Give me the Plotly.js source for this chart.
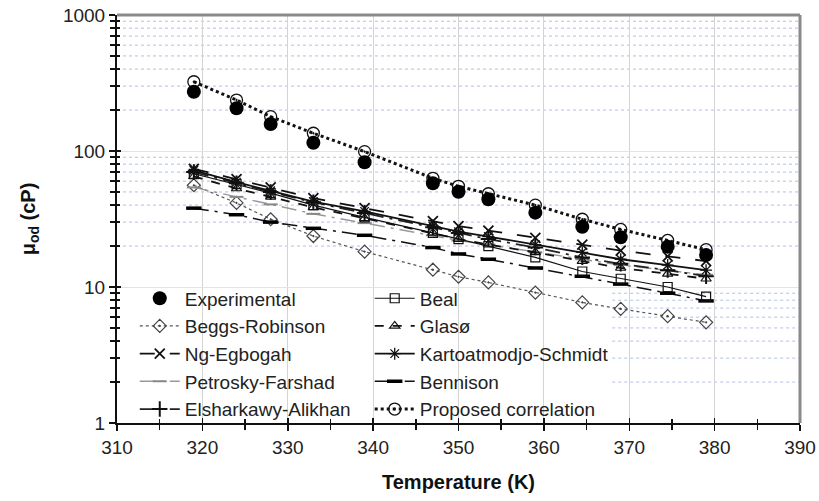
<!DOCTYPE html>
<html>
<head>
<meta charset="utf-8">
<script src="https://cdn.plot.ly/plotly-3.0.1.min.js"></script>
<style>html,body{margin:0;padding:0;background:#fff;}#chart{width:819px;height:501px;}</style>
</head>
<body>
<div id="chart"></div>
<script>
// Temperatures (K)
const temperature = [319, 324, 328, 333, 339, 347, 350, 353.5, 359, 364.5, 369, 374.5, 379];
// Viscosity (cP)
const experimental = [273, 206, 158, 115, 82.6, 57.9, 50.2, 44.2, 35.2, 27.7, 23.2, 19.8, 17.2];
const beal = [68, 57, 49, 40, 32.5, 25, 22.5, 20, 16.5, 13, 11.5, 10, 8.5];
const beggsRobinson = [56, 41.5, 31.5, 23.7, 18.2, 13.4, 11.9, 10.8, 9.1, 7.7, 6.9, 6.1, 5.5];
const glaso = [65, 53, 46, 38.5, 32, 25, 22.5, 20.5, 18, 15.5, 13.8, 12.5, 11.5];
const ngEgbogah = [74, 62, 54, 45, 38, 30.5, 28, 26, 23, 20.5, 18.5, 16.8, 15.5];
const kartoatmodjo = [72, 59, 51, 42.5, 36, 28, 25.5, 23.5, 20.5, 18, 16, 14.5, 13.3];
const petrosky = [54, 46, 40.5, 34.5, 29.5, 24, 22, 20.5, 18, 16, 14.5, 13.3, 12.3];
const bennison = [38, 34, 30, 27, 24, 19.5, 17.5, 16, 13.8, 12, 10.5, 9, 7.9];
const elsharkawy = [70, 58, 50, 42, 35, 27.5, 25, 22.5, 19.5, 16.5, 14.8, 13.3, 12];
const proposed = [323, 237, 179, 135, 99, 63, 55, 48.5, 40, 31.5, 26.5, 22, 18.8];

const xTicks = [310, 320, 330, 340, 350, 360, 370, 380, 390];
const yTicks = [1, 10, 100, 1000];
const yTickText = ["1", "10", "100", "1000"];
const yMinor = [2,3,4,5,6,7,8,9,20,30,40,50,60,70,80,90,200,300,400,500,600,700,800,900];

function tr(name, y, rank, legend, line, marker, mode) {
  return {x: temperature, y: y, name: name, legendrank: rank, legend: legend,
          mode: mode || 'lines+markers', line: line, marker: marker, type: 'scatter'};
}

const data = [
  tr('Proposed correlation', proposed, 5, 'legend2', {color:'#111', width:3, dash:'dot'},
     {symbol:'circle-open-dot', size:12, color:'#111', line:{width:1.3}}),
  tr('Beggs-Robinson', beggsRobinson, 2, 'legend', {color:'#555', width:1.2, dash:'dot'},
     {symbol:'diamond-open-dot', size:10, color:'#444', line:{width:1.2}}),
  tr('Petrosky-Farshad', petrosky, 4, 'legend', {color:'#999', width:1.5, dash:'longdashdot'},
     {symbol:'line-ew-open', size:10, color:'#888', line:{width:2}}),
  tr('Bennison', bennison, 4, 'legend2', {color:'#111', width:1.5, dash:'longdashdot'},
     {symbol:'line-ew-open', size:11, color:'#000', line:{width:3.5}}),
  tr('Beal', beal, 1, 'legend2', {color:'#111', width:1.2},
     {symbol:'square-open', size:9, color:'#111', line:{width:1.2}}),
  tr('Glasø', glaso, 2, 'legend2', {color:'#111', width:1.8, dash:'dash'},
     {symbol:'triangle-up-open', size:9, color:'#111', line:{width:1.2}}),
  tr('Elsharkawy-Alikhan', elsharkawy, 5, 'legend', {color:'#222', width:1.8, dash:'longdashdot'},
     {symbol:'cross-thin-open', size:11, color:'#111', line:{width:2}}),
  tr('Kartoatmodjo-Schmidt', kartoatmodjo, 3, 'legend2', {color:'#111', width:1.8},
     {symbol:'asterisk-open', size:10, color:'#111', line:{width:1.3}}),
  tr('Ng-Egbogah', ngEgbogah, 3, 'legend', {color:'#111', width:1.8, dash:'longdash'},
     {symbol:'x-thin-open', size:10, color:'#111', line:{width:1.8}}),
  tr('Experimental', experimental, 1, 'legend', {color:'#000', width:1},
     {symbol:'circle', size:14, color:'#000'}, 'markers'),
  // empty helper trace so the overlay axes (inner tick halves) are drawn
  {x: [], y: [], xaxis:'x2', yaxis:'y2', type:'scatter', mode:'markers', showlegend:false, hoverinfo:'skip'}
];

const font = {family:'Liberation Sans, Arial, sans-serif', size:19, color:'#222'};
const legendTop = 0.33;    // paper y of legend box top
const legendRight = 0.725; // paper x of legend box right edge

// dotted minor horizontal grid, left out behind the opaque legend box
const minorGrid = yMinor.map(v => {
  const py = Math.log10(v) / 3;
  return {type:'line', xref:'paper', yref:'y', x0: py < legendTop ? legendRight : 0, x1:1, y0:v, y1:v,
          layer:'below', line:{color:'#b3bee8', width:1, dash:'dot'}};
});

const legendCommon = {
  orientation:'v', yanchor:'top', xanchor:'left', bgcolor:'rgba(0,0,0,0)', borderwidth:0,
  font:{family:font.family, size:19, color:'#222'}, tracegroupgap:0, itemwidth:40
};

const layout = {
  width: 819, height: 501,
  margin: {l:117, r:19, t:15, b:78},
  paper_bgcolor:'#fff', plot_bgcolor:'rgba(0,0,0,0)',
  font: font,
  showlegend: true,
  legend: Object.assign({x:0.026, y:0.352}, legendCommon),
  legend2: Object.assign({x:0.370, y:0.352}, legendCommon),
  xaxis: {
    range:[310, 390], tickvals:xTicks, ticktext:xTicks.map(String),
    showline:true, linecolor:'#111', linewidth:2,
    ticks:'outside', ticklen:6, tickwidth:1.5, tickcolor:'#111',
    showgrid:true, gridcolor:'#d4d4d4', gridwidth:1,
    zeroline:false,
    minor:{dtick:5, tick0:310, ticks:'outside', ticklen:5, tickcolor:'#111', showgrid:false},
    title:{text:'Temperature (K)', font:{family:font.family, size:20, color:'#111', weight:'bold'}, standoff:18}
  },
  yaxis: {
    type:'log', range:[0, 3], tickvals:yTicks, ticktext:yTickText,
    showline:true, linecolor:'#111', linewidth:2,
    ticks:'outside', ticklen:6, tickwidth:1.5, tickcolor:'#111',
    showgrid:true, gridcolor:'#e4e4d8', gridwidth:1,
    zeroline:false,
    minor:{tickvals:yMinor, ticks:'outside', ticklen:5, tickcolor:'#111', showgrid:false},
    title:{text:'μ<sub>od</sub> (cP)', font:{family:font.family, size:20, color:'#111', weight:'bold'}, standoff:22}
  },
  xaxis2: {
    overlaying:'x', anchor:'y2', range:[310, 390], tickvals:xTicks, showticklabels:false,
    ticks:'inside', ticklen:5, tickwidth:1.5, tickcolor:'#111', showgrid:false, zeroline:false, showline:false,
    minor:{dtick:5, tick0:310, ticks:'inside', ticklen:4, tickcolor:'#111', showgrid:false}
  },
  yaxis2: {
    overlaying:'y', anchor:'x2', type:'log', range:[0, 3], tickvals:yTicks, showticklabels:false,
    ticks:'inside', ticklen:4, tickwidth:1.5, tickcolor:'#111', showgrid:false, zeroline:false, showline:false,
    minor:{tickvals:yMinor, ticks:'inside', ticklen:3, tickcolor:'#111', showgrid:false}
  },
  shapes: [
    ...minorGrid,
    {type:'line', xref:'paper', yref:'paper', x0:0, x1:1, y0:1, y1:1, line:{color:'#8a8a8a', width:3}},
    {type:'line', xref:'paper', yref:'paper', x0:1, x1:1, y0:0, y1:1, line:{color:'#8a8a8a', width:3}}
  ]
};

Plotly.newPlot('chart', data, layout, {displayModeBar:false, staticPlot:true});
</script>
</body>
</html>
